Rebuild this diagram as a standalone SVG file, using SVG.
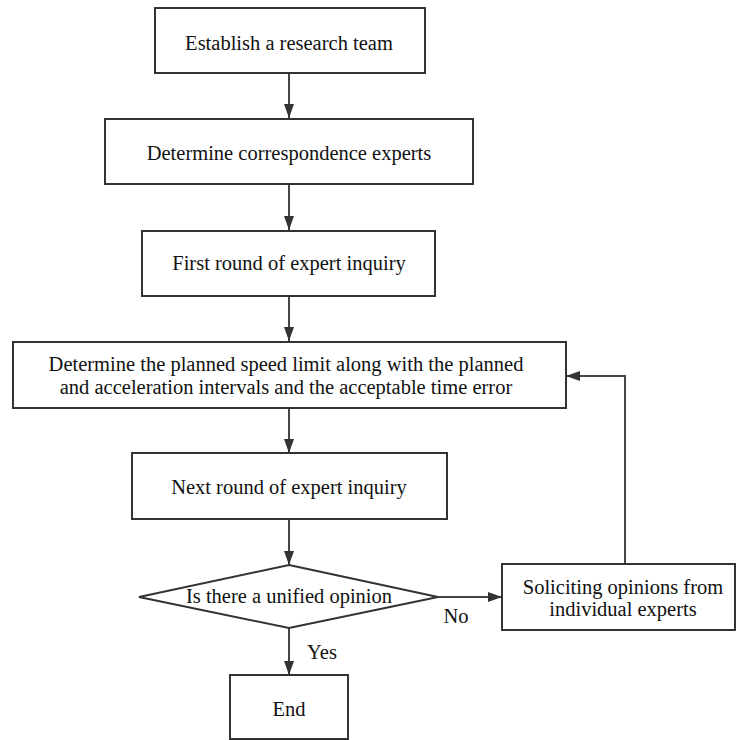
<svg xmlns="http://www.w3.org/2000/svg" width="737" height="740" viewBox="0 0 737 740">
<defs>
<style>
.box{fill:#fff;stroke:#333;stroke-width:2}
.t{font-family:'Liberation Serif','Times New Roman','DejaVu Serif',serif;font-size:20.5px;fill:#111;text-anchor:middle;dominant-baseline:central}
.c{fill:none;stroke:#444;stroke-width:2}
</style>
<marker id="ah" viewBox="0 0 14 10" refX="14" refY="5" markerWidth="14" markerHeight="10" markerUnits="userSpaceOnUse" orient="auto">
<path d="M0,0 L14,5 L0,10 Z" fill="#333"/>
</marker>
</defs>
<rect width="737" height="740" fill="#fff"/>
<g id="connectors">
<line class="c" x1="289" y1="73" x2="289" y2="118" marker-end="url(#ah)"/>
<line class="c" x1="289" y1="184" x2="289" y2="230" marker-end="url(#ah)"/>
<line class="c" x1="289" y1="296" x2="289" y2="341" marker-end="url(#ah)"/>
<line class="c" x1="289" y1="408" x2="289" y2="453" marker-end="url(#ah)"/>
<line class="c" x1="289" y1="519" x2="289" y2="565" marker-end="url(#ah)"/>
<line class="c" x1="438" y1="597" x2="502" y2="597" marker-end="url(#ah)"/>
<polyline class="c" points="625,564 625,376 566,376" marker-end="url(#ah)"/>
<line class="c" x1="289" y1="628" x2="289" y2="675" marker-end="url(#ah)"/>
<text class="t" x="456" y="616">No</text>
<text class="t" x="322" y="652">Yes</text>
</g>
<g id="n1"><rect class="box" x="155" y="8" width="270" height="65"/><text class="t" x="289" y="43">Establish a research team</text></g>
<g id="n2"><rect class="box" x="105" y="119" width="368" height="65"/><text class="t" x="289" y="153">Determine correspondence experts</text></g>
<g id="n3"><rect class="box" x="142" y="231" width="293" height="65"/><text class="t" x="289" y="263">First round of expert inquiry</text></g>
<g id="n4"><rect class="box" x="13" y="342" width="553" height="66"/><text class="t" x="286" y="364">Determine the planned speed limit along with the planned</text><text class="t" x="286" y="387">and acceleration intervals and the acceptable time error</text></g>
<g id="n5"><rect class="box" x="132" y="453" width="315" height="66"/><text class="t" x="289" y="487">Next round of expert inquiry</text></g>
<g id="n6"><polygon class="box" points="289,565 438,597 289,628 139,597"/><text class="t" x="289" y="596">Is there a unified opinion</text></g>
<g id="n7"><rect class="box" x="502" y="564" width="233" height="66"/><text class="t" x="623" y="587">Soliciting opinions from</text><text class="t" x="623" y="609">individual experts</text></g>
<g id="n8"><rect class="box" x="230" y="675" width="118" height="64"/><text class="t" x="289" y="709">End</text></g>
</svg>
